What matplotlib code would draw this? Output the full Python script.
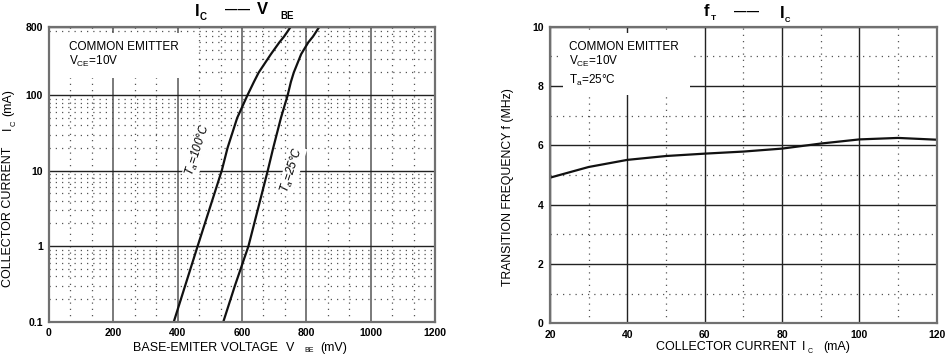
import numpy as np
import matplotlib
matplotlib.use("Agg")
import matplotlib.pyplot as plt
from matplotlib.patches import Rectangle
from matplotlib.ticker import FixedLocator, NullFormatter, LogLocator

plt.rcParams['font.family'] = ['Liberation Sans', 'DejaVu Sans']

# Ic - Vbe data (mA, mV)
ic_100 = [0.1, 1, 10, 20, 50, 100, 150, 200, 350, 500, 600, 800]
vbe_100 = [388, 462, 537, 555, 585, 617, 637, 652, 690, 716, 731, 751]
ic_25 = [0.1, 0.3, 1, 10, 20, 50, 100, 150, 200, 350, 500, 600, 800]
vbe_25 = [542, 578, 620, 680, 697, 721, 742, 752, 761, 784, 806, 821, 840]

# fT - Ic data (mA, MHz)
ic_ft = [20, 30, 40, 50, 60, 70, 80, 90, 100, 110, 120]
ft = [4.91, 5.27, 5.51, 5.64, 5.72, 5.79, 5.89, 6.06, 6.20, 6.25, 6.19]

vbe_ticks = [0, 200, 400, 600, 800, 1000, 1200]
ic_ticks = [0.1, 1, 10, 100, 800]
ic_tick_labels = ['0.1', '1', '10', '100', '800']
ft_xticks = [20, 40, 60, 80, 100, 120]
ft_yticks = [0, 2, 4, 6, 8, 10]

W, H = 951, 355
fig = plt.figure(figsize=(W / 100, H / 100), dpi=100)

def box(x0, y0, x1, y1):
    # pixel box -> figure fraction rect
    return [x0 / W, 1 - y1 / H, (x1 - x0) / W, (y1 - y0) / H]

def ftext(x, y, s, **kw):
    # text placed by pixel position from top-left
    kw.setdefault('va', 'center')
    kw.setdefault('ha', 'center')
    return fig.text(x / W, 1 - y / H, s, **kw)

dot = dict(linestyle=(0, (1, 4)), linewidth=0.9, color='#555555')

# ---------------- left: Ic - Vbe ----------------
ax1 = fig.add_axes(box(49, 27, 435, 321.7))
ax1.set_yscale('log')
ax1.set_xlim(0, 1200)
ax1.set_ylim(0.1, 800)
ax1.set_axisbelow(True)

ax1.xaxis.set_major_locator(FixedLocator(vbe_ticks))
ax1.xaxis.set_minor_locator(FixedLocator(
    [v + d for v in vbe_ticks[:-1] for d in (200 / 3, 400 / 3)]))
ax1.yaxis.set_major_locator(FixedLocator(ic_ticks))
ax1.yaxis.set_minor_locator(LogLocator(base=10, subs=np.arange(2, 10)))
ax1.yaxis.set_minor_formatter(NullFormatter())
ax1.set_yticklabels(ic_tick_labels)

ax1.grid(True, which='major', axis='x', color='#7a7a7a', linewidth=1.4)
ax1.grid(True, which='major', axis='y', color='#222222', linewidth=1.0)
ax1.grid(True, which='minor', axis='both', **dot)

ax1.plot(vbe_100, ic_100, color='#111111', linewidth=1.6)
ax1.plot(vbe_25, ic_25, color='#111111', linewidth=1.6)

ax1.add_patch(Rectangle((0, 0.827), 0.378, 0.153, transform=ax1.transAxes,
                        facecolor='white', edgecolor='none', zorder=1))
ax1.text(0.052, 0.933, 'COMMON EMITTER', transform=ax1.transAxes,
         fontsize=8.5, va='center', zorder=3)
ax1.text(0.052, 0.882, r'V$_{\mathregular{CE}}$=10V', transform=ax1.transAxes,
         fontsize=8.5, va='center', zorder=3)

ax1.text(463, 18.7, r'T$_{\mathregular{a}}$=100°C',
         rotation=72, fontsize=8.5, ha='center', va='center', style='italic',
         bbox=dict(facecolor='white', edgecolor='none', pad=0.5), zorder=3)
ax1.text(755, 10.2, r'T$_{\mathregular{a}}$=25°C',
         rotation=72, fontsize=8.5, ha='center', va='center', style='italic',
         bbox=dict(facecolor='white', edgecolor='none', pad=0.5), zorder=3)

# ---------------- right: fT - Ic ----------------
ax2 = fig.add_axes(box(550, 26.7, 936.7, 323.3))
ax2.set_xlim(20, 120)
ax2.set_ylim(0, 10)
ax2.set_axisbelow(True)
ax2.xaxis.set_major_locator(FixedLocator(ft_xticks))
ax2.xaxis.set_minor_locator(FixedLocator([30, 50, 70, 90, 110]))
ax2.yaxis.set_major_locator(FixedLocator(ft_yticks))
ax2.yaxis.set_minor_locator(FixedLocator([1, 3, 5, 7, 9]))

ax2.grid(True, which='major', color='#222222', linewidth=1.0)
ax2.grid(True, which='minor', **dot)

ax2.plot(ic_ft, ft, color='#111111', linewidth=1.6)

ax2.add_patch(Rectangle((0.034, 0.77), 0.328, 0.209, transform=ax2.transAxes,
                        facecolor='white', edgecolor='none', zorder=1))
ax2.text(0.050, 0.933, 'COMMON EMITTER', transform=ax2.transAxes,
         fontsize=8.5, va='center', zorder=3)
ax2.text(0.050, 0.882, r'V$_{\mathregular{CE}}$=10V', transform=ax2.transAxes,
         fontsize=8.5, va='center', zorder=3)
ax2.text(0.050, 0.820, r'T$_{\mathregular{a}}$=25°C', transform=ax2.transAxes,
         fontsize=8.5, va='center', zorder=3)

for ax in (ax1, ax2):
    for s in ax.spines.values():
        s.set_color('#707070')
        s.set_linewidth(1.6)
    ax.tick_params(which='both', length=0, pad=4.5)
    for lab in ax.get_xticklabels() + ax.get_yticklabels():
        lab.set_fontsize(7.5)
        lab.set_fontweight('bold')

# axis labels (left)
ftext(133, 348, 'BASE-EMITER VOLTAGE', fontsize=9, ha='left')
ftext(290, 348, 'V', fontsize=9)
ftext(309, 350.5, 'BE', fontsize=5)
ftext(320, 348, '(mV)', fontsize=9, ha='left')
ftext(8, 216.5, 'COLLECTOR CURRENT', fontsize=9, rotation=90)
ftext(8, 128, 'I', fontsize=9, rotation=90)
ftext(14, 123, 'C', fontsize=5.5, rotation=90)
ftext(8, 102.5, '(mA)', fontsize=9, rotation=90)

# axis labels (right)
ftext(655.7, 346.7, 'COLLECTOR CURRENT', fontsize=9, ha='left')
ftext(804, 346.7, 'I', fontsize=9)
ftext(810, 351.5, 'C', fontsize=5)
ftext(823, 346.7, '(mA)', fontsize=9, ha='left')
ftext(508, 187.5, 'TRANSITION FREQUENCY f (MHz)', fontsize=8.8, rotation=90)

# titles
ftext(197, 11, 'I', fontsize=12, fontweight='bold')
ftext(203, 17, 'C', fontsize=7, fontweight='bold')
ftext(237.5, 10, '——', fontsize=9, fontweight='bold')
ftext(262, 10, 'V', fontsize=12, fontweight='bold')
ftext(287, 16, 'BE', fontsize=7, fontweight='bold')

ftext(706, 11, 'f', fontsize=12, fontweight='bold')
ftext(713, 19, 'T', fontsize=6, fontweight='bold')
ftext(747, 12, '——', fontsize=9, fontweight='bold')
ftext(782, 13, 'I', fontsize=12, fontweight='bold')
ftext(787, 20, 'C', fontsize=5.5, fontweight='bold')

fig.savefig('out.png', dpi=100)
